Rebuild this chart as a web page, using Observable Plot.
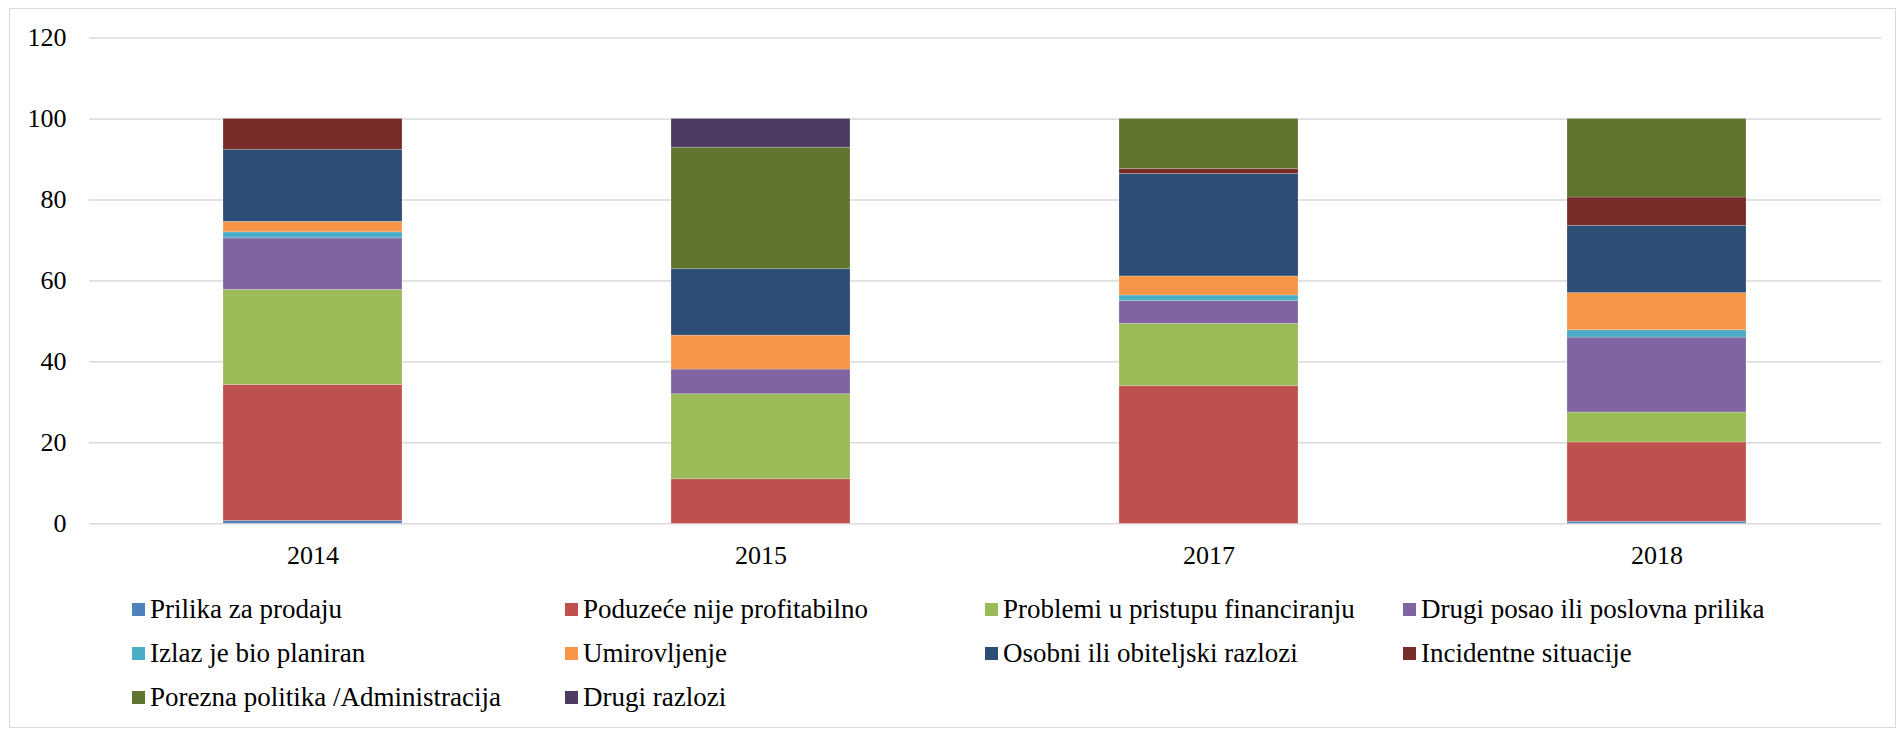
<!DOCTYPE html>
<html>
<head>
<meta charset="utf-8">
<script src="https://cdn.jsdelivr.net/npm/d3@7"></script>
<script src="https://cdn.jsdelivr.net/npm/@observablehq/plot@0.6"></script>
<style>
  html, body { margin: 0; padding: 0; background: #fff; }
  body { width: 1898px; height: 730px; position: relative; overflow: hidden; font-family: "Liberation Serif", "Times New Roman", serif; }
  #frame { position: absolute; left: 9px; top: 8px; width: 1885px; height: 718px; border: 1px solid #d9d9d9; pointer-events: none; }
  #chart svg { display: block; }
  #legend { display: grid; grid-template-columns: 433px 420px 418px 418px; grid-auto-rows: 44px; padding-left: 132px; margin-top: 7px; font-size: 27px; color: #000; }
  .item { display: flex; align-items: center; white-space: nowrap; }
  .sw { width: 13px; height: 13px; margin-right: 5px; flex: none; }
</style>
</head>
<body>
<div id="chart"></div>
<div id="legend"></div>
<div id="frame"></div>
<script>
const years = ["2014", "2015", "2017", "2018"];
const series = [
  "Prilika za prodaju",
  "Poduzeće nije profitabilno",
  "Problemi u pristupu financiranju",
  "Drugi posao ili poslovna prilika",
  "Izlaz je bio planiran",
  "Umirovljenje",
  "Osobni ili obiteljski razlozi",
  "Incidentne situacije",
  "Porezna politika /Administracija",
  "Drugi razlozi"
];
const colors = ["#4F81BD", "#C0504D", "#9BBB59", "#8064A2", "#4BACC6", "#F79646", "#2C4D75", "#772C2A", "#5F7530", "#4D3B62"];
// values per series, in order of years
const prilika      = [0.7, 0.0, 0.0, 0.5];
const poduzece     = [33.6, 11.0, 34.0, 19.6];
const problemi     = [23.5, 21.0, 15.4, 7.4];
const drugiPosao   = [12.7, 6.1, 5.6, 18.5];
const izlaz        = [1.5, 0.0, 1.4, 1.8];
const umirovljenje = [2.6, 8.4, 4.7, 9.2];
const osobni       = [17.8, 16.4, 25.3, 16.6];
const incidentne   = [7.6, 0.0, 1.2, 7.0];
const porezna      = [0.0, 30.0, 12.4, 19.4];
const drugiRazlozi = [0.0, 7.1, 0.0, 0.0];
const yTicks = [0, 20, 40, 60, 80, 100, 120];

const values = [prilika, poduzece, problemi, drugiPosao, izlaz, umirovljenje, osobni, incidentne, porezna, drugiRazlozi];
const data = [];
series.forEach((s, i) => years.forEach((y, j) => data.push({year: y, series: s, value: values[i][j]})));

const chart = Plot.plot({
  width: 1898,
  height: 580,
  marginTop: 37.5,
  marginBottom: 56.7,
  marginLeft: 89,
  marginRight: 17,
  style: {fontFamily: "Liberation Serif, Times New Roman, serif", fontSize: "26px", color: "#000", background: "#fff"},
  x: {domain: years, paddingInner: 0.6, paddingOuter: 0.3, label: null},
  y: {domain: [0, 120], label: null},
  color: {domain: series, range: colors},
  marks: [
    Plot.gridY(yTicks, {stroke: "#d9d9d9", strokeOpacity: 1, strokeWidth: 1.5}),
    Plot.barY(data, {x: "year", y: "value", fill: "series", order: series, stroke: "#ffffff", strokeOpacity: 0.25, strokeWidth: 0.8}),
    Plot.axisY(yTicks, {tickSize: 0, tickPadding: 23, label: null, fill: "#000"}),
    Plot.axisX({tickSize: 0, tickPadding: 22, label: null, fill: "#000"})
  ]
});
document.getElementById("chart").appendChild(chart);

const legend = document.getElementById("legend");
series.forEach((s, i) => {
  const it = document.createElement("div");
  it.className = "item";
  const sw = document.createElement("span");
  sw.className = "sw";
  sw.style.background = colors[i];
  const tx = document.createElement("span");
  tx.textContent = s;
  it.appendChild(sw);
  it.appendChild(tx);
  legend.appendChild(it);
});
</script>
</body>
</html>
